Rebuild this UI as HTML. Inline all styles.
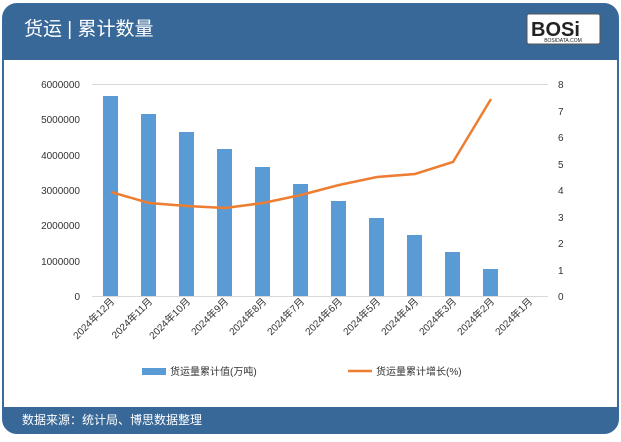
<!DOCTYPE html>
<html><head><meta charset="utf-8"><style>
body{margin:0;width:621px;height:437px;background:#fff;overflow:hidden;font-family:"Liberation Sans","Noto Sans CJK SC",sans-serif}
</style></head><body>
<svg width="621" height="437" xmlns="http://www.w3.org/2000/svg" font-family="Liberation Sans, Noto Sans CJK SC, sans-serif">
<rect x="3" y="4" width="615" height="429" rx="14" fill="#fff" stroke="#3a6a9e" stroke-width="2"/>
<path d="M3 18 a14 14 0 0 1 14 -14 H604 a14 14 0 0 1 14 14 V60 H3 Z" fill="#386898"/>
<path d="M3 407 H618 V419 a14 14 0 0 1 -14 14 H17 a14 14 0 0 1 -14 -14 Z" fill="#386898"/>
<text x="24" y="35" font-size="19" fill="#fff">货运 | 累计数量</text>
<rect x="527" y="14" width="73" height="30" fill="#fff" stroke="#555" rx="2"/>
<text x="531" y="36" font-size="20" font-weight="bold" fill="#222">BOSi</text>
<text x="563" y="42" font-size="5" fill="#222" text-anchor="middle">BOSIDATA.COM</text>
<text x="22" y="424" font-size="12" fill="#fff">数据来源：统计局、博思数据整理</text>
<g stroke="#d9d9d9" stroke-width="1">
<line x1="92" y1="84.5" x2="548" y2="84.5"/>
<line x1="92" y1="296.5" x2="548" y2="296.5"/>
</g>
<g font-size="10" fill="#333" text-anchor="end">
<text x="80" y="88">6000000</text><text x="80" y="123">5000000</text><text x="80" y="159">4000000</text><text x="80" y="194">3000000</text><text x="80" y="229">2000000</text><text x="80" y="265">1000000</text><text x="80" y="300">0</text>
</g>
<g font-size="10" fill="#333">
<text x="558" y="88">8</text><text x="558" y="115">7</text><text x="558" y="141">6</text><text x="558" y="168">5</text><text x="558" y="194">4</text><text x="558" y="221">3</text><text x="558" y="247">2</text><text x="558" y="274">1</text><text x="558" y="300">0</text>
</g>
<g fill="#5b9bd5">
<rect x="103" y="96" width="15" height="200"/>
<rect x="141" y="114" width="15" height="182"/>
<rect x="179" y="132" width="15" height="164"/>
<rect x="217" y="149" width="15" height="147"/>
<rect x="255" y="167" width="15" height="129"/>
<rect x="293" y="184" width="15" height="112"/>
<rect x="331" y="201" width="15" height="95"/>
<rect x="369" y="218" width="15" height="78"/>
<rect x="407" y="235" width="15" height="61"/>
<rect x="445" y="252" width="15" height="44"/>
<rect x="483" y="269" width="15" height="27"/>
</g>
<polyline fill="none" stroke="#ed7d31" stroke-width="2.5" points="111,192 149,203 187,206 225,208 263,203 301,195 339,185 377,177 415,174 453,162 491,99"/>
<g font-size="10" fill="#333" text-anchor="end">
<text transform="translate(115,302) rotate(-45)">2024年12月</text>
<text transform="translate(153,302) rotate(-45)">2024年11月</text>
<text transform="translate(191,302) rotate(-45)">2024年10月</text>
<text transform="translate(229,302) rotate(-45)">2024年9月</text>
<text transform="translate(267,302) rotate(-45)">2024年8月</text>
<text transform="translate(305,302) rotate(-45)">2024年7月</text>
<text transform="translate(343,302) rotate(-45)">2024年6月</text>
<text transform="translate(381,302) rotate(-45)">2024年5月</text>
<text transform="translate(419,302) rotate(-45)">2024年4月</text>
<text transform="translate(457,302) rotate(-45)">2024年3月</text>
<text transform="translate(495,302) rotate(-45)">2024年2月</text>
<text transform="translate(533,302) rotate(-45)">2024年1月</text>
</g>
<rect x="142" y="368" width="24" height="7" fill="#5b9bd5"/>
<text x="170" y="375" font-size="10" fill="#333">货运量累计值(万吨)</text>
<line x1="348" y1="371" x2="372" y2="371" stroke="#ed7d31" stroke-width="2.5"/>
<text x="376" y="375" font-size="10" fill="#333">货运量累计增长(%)</text>
</svg>
</body></html>
